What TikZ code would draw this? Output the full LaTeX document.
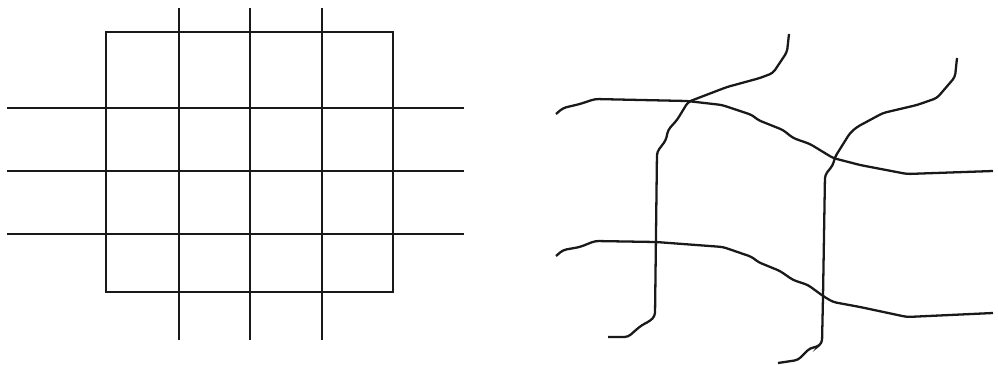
\documentclass[tikz,border=0pt]{standalone}
\tikzset{
    gridline/.style={line width=1.3pt, black!90},
    warpline/.style={line width=1.3pt, black!90, rounded corners=2pt}
}
\begin{document}
\begin{tikzpicture}[x=0.02cm, y=-0.02cm]
    \useasboundingbox (0,0) rectangle (998,365);

    % ==========================================
    % Left: regular grid
    % ==========================================
    \draw[gridline] (106,32) rectangle (393,292);
    \foreach \x in {179, 250, 322} {
        \draw[gridline] (\x,8) -- (\x,340);
    }
    \foreach \y in {108, 171, 234} {
        \draw[gridline] (7,\y) -- (464,\y);
    }

    % ==========================================
    % Right: distorted grid
    % ==========================================
    % Upper crossing line
    \draw[warpline] (556,114) -- (563,108) -- (580,104) -- (595,99) -- (687,101)
        -- (722,105) -- (752,115) -- (758,120) -- (783,130) -- (793,138)
        -- (810,144) -- (833,158) -- (860,165) -- (907,174) -- (993,171);

    % Lower crossing line
    \draw[warpline] (556,256) -- (563,250) -- (580,247) -- (595,241) -- (656,242)
        -- (723,247) -- (752,257) -- (758,262) -- (780,271) -- (793,280)
        -- (808,285) -- (823,296) -- (833,302) -- (860,307) -- (907,317) -- (993,313);

    % Left upright line
    \draw[warpline] (789,34) -- (787,52) -- (773,73) -- (760,78) -- (727,87)
        -- (693,100) -- (688,102) -- (677,120) -- (668,130) -- (666,140)
        -- (657,152) -- (655,316) -- (650,321) -- (642,325) -- (637,329)
        -- (628,337) -- (608,337);

    % Right upright line
    \draw[warpline] (957,58) -- (955,77) -- (937,98) -- (917,105) -- (883,113)
        -- (857,127) -- (850,133) -- (835,157) -- (833,165) -- (825,175)
        -- (823,297) -- (822,343) -- (817,347) -- (810,348) -- (798,360) -- (778,363);

\end{tikzpicture}
\end{document}
